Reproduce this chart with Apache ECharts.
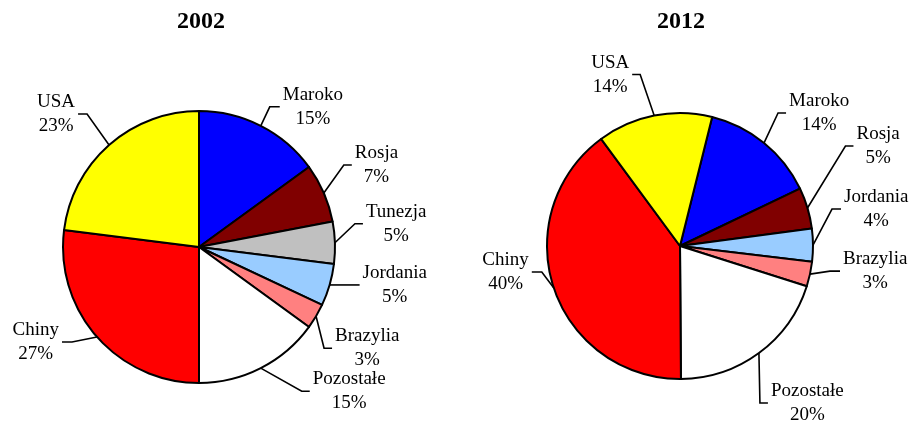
<!DOCTYPE html>
<html>
<head>
<meta charset="utf-8">
<script src="https://cdn.jsdelivr.net/npm/echarts@6/dist/echarts.min.js"></script>
<style>
  html, body { margin: 0; padding: 0; background: #fff; }
  #chart { width: 910px; height: 422px; }
</style>
</head>
<body>
<div id="chart"></div>
<script>
// dane
var names2002 = ['Maroko', 'Rosja', 'Tunezja', 'Jordania', 'Brazylia', 'Pozostałe', 'Chiny', 'USA'];
var values2002 = [15, 7, 5, 5, 3, 15, 27, 23];
var names2012 = ['Maroko', 'Rosja', 'Jordania', 'Brazylia', 'Pozostałe', 'Chiny', 'USA'];
var values2012 = [14, 5, 4, 3, 20, 40, 14];

var colors = {
  'Maroko': '#0000ff',
  'Rosja': '#800000',
  'Tunezja': '#c0c0c0',
  'Jordania': '#99ccff',
  'Brazylia': '#ff8080',
  'Pozostałe': '#ffffff',
  'Chiny': '#ff0000',
  'USA': '#ffff00'
};

// linie odniesienia: [dx do zalamania, dy do zalamania, odcinek poziomy]
var leader2002 = [[9, -19, 10], [20, -28, 8], [20, -19, 8], [0, 0, 30], [8, 32, 8], [41, 23, 8], [-25, 5, -10], [-22, -31, -9]];
var leader2012 = [[14, -30, 8], [38, -62, 8], [19, -36, 9], [20, -3, 10], [1, 50, 8], [-12, -16, -10], [-14, -41, -8]];

var font = "'Liberation Serif', 'Times New Roman', serif";
var myChart = echarts.init(document.getElementById('chart'));

function makeData(names, values) {
  return names.map(function (n, i) {
    return { name: n, value: values[i], itemStyle: { color: colors[n] } };
  });
}

function makeLayout(leader) {
  return function (params) {
    var pts = params.labelLinePoints;
    var cfg = leader[params.dataIndex];
    if (!pts || !cfg) return {};
    var p0 = pts[0];
    var p1 = [p0[0] + cfg[0], p0[1] + cfg[1]];
    var p2 = [p1[0] + cfg[2], p1[1]];
    var right = cfg[2] >= 0;
    return {
      x: p2[0] + (right ? 3 : -3),
      y: p2[1],
      align: right ? 'left' : 'right',
      verticalAlign: 'middle',
      labelLinePoints: [p0, p1, p2]
    };
  };
}

function makeSeries(names, values, leader, center, radius, startAngle) {
  return {
    type: 'pie',
    center: center,
    radius: radius,
    startAngle: startAngle,
    clockwise: true,
    avoidLabelOverlap: false,
    percentPrecision: 0,
    animation: false,
    itemStyle: { borderColor: '#000', borderWidth: 2 },
    emphasis: { disabled: true },
    label: {
      show: true,
      position: 'outside',
      formatter: '{n|{b}}\n{n|{d}%}',
      rich: {
        n: { fontFamily: font, fontSize: 19, lineHeight: 24, color: '#000', align: 'center' }
      }
    },
    labelLine: {
      show: true,
      length: 15,
      length2: 10,
      lineStyle: { color: '#000', width: 1.6 }
    },
    labelLayout: makeLayout(leader),
    data: makeData(names, values)
  };
}

var option = {
  backgroundColor: '#ffffff',
  title: [{
    text: '2002',
    left: 201,
    top: 9,
    padding: 0,
    textAlign: 'center',
    textStyle: { fontFamily: font, fontSize: 24, fontWeight: 'bold', lineHeight: 25, color: '#000' }
  }, {
    text: '2012',
    left: 681,
    top: 9,
    padding: 0,
    textAlign: 'center',
    textStyle: { fontFamily: font, fontSize: 24, fontWeight: 'bold', lineHeight: 25, color: '#000' }
  }],
  series: [
    makeSeries(names2002, values2002, leader2002, [199, 247], 136, 90),
    makeSeries(names2012, values2012, leader2012, [680, 246], 133, 76)
  ]
};
myChart.setOption(option);
</script>
</body>
</html>
